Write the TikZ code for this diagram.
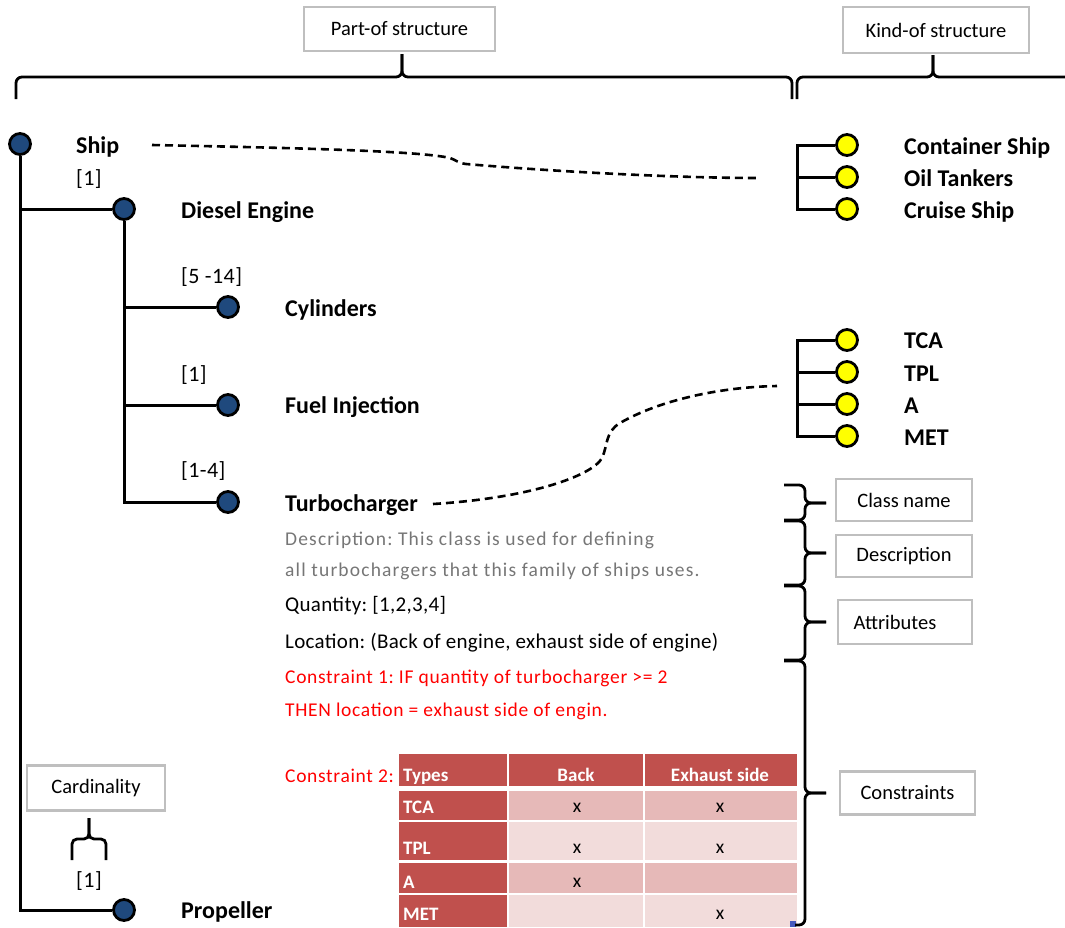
\documentclass[tikz,border=0pt]{standalone}
\usepackage{fontspec}
\setmainfont{Carlito}
\frenchspacing
\definecolor{partblue}{RGB}{31,73,125}
\definecolor{kindyellow}{RGB}{255,255,0}
\definecolor{tagline}{RGB}{191,191,191}
\definecolor{descgray}{RGB}{118,118,118}
\definecolor{rulered}{RGB}{255,0,0}
\definecolor{thead}{RGB}{192,80,77}
\definecolor{tmid}{RGB}{230,185,184}
\definecolor{tlight}{RGB}{242,220,219}
\definecolor{handle}{RGB}{70,90,190}
\begin{document}
\begin{tikzpicture}[x=1pt,y=-1pt,
  part/.style={circle, draw=black, line width=2.8pt, fill=partblue, minimum size=21pt, inner sep=0pt},
  kind/.style={part, fill=kindyellow},
  tree/.style={line width=3pt},
  clsname/.style={anchor=west, inner sep=0pt, text depth=0pt, text height=15.5pt,
    font=\fontsize{24}{28}\selectfont\bfseries},
  mult/.style={anchor=west, inner sep=0pt, text depth=0pt, text height=14pt,
    font=\fontsize{22}{26}\selectfont\addfontfeatures{LetterSpace=2}},
  attr/.style={anchor=west, inner sep=0pt, text depth=0pt, text height=13.5pt,
    font=\fontsize{21}{25}\selectfont\addfontfeatures{LetterSpace=1.5}},
  desc/.style={anchor=west, inner sep=0pt, text depth=0pt, text height=12.5pt, text=descgray,
    font=\fontsize{19.5}{23}\selectfont\addfontfeatures{LetterSpace=6}},
  rule/.style={anchor=west, inner sep=0pt, text depth=0pt, text height=12.5pt, text=rulered,
    font=\fontsize{19.5}{23}\selectfont\addfontfeatures{LetterSpace=3.5}},
  tag/.style={draw=tagline, line width=2.5pt, fill=white, inner sep=0pt,
    font=\fontsize{20.5}{24}\selectfont},
  brace/.style={line width=2.8pt, rounded corners=6pt},
  link/.style={line width=2.6pt, dash pattern=on 8pt off 5pt},
  thtext/.style={inner sep=0pt, text depth=0pt, text height=12.2pt, text=white,
    font=\fontsize{19}{23}\selectfont\bfseries},
  xmark/.style={inner sep=0pt, text depth=0pt, text height=8.9pt,
    font=\fontsize{19.5}{23}\selectfont}
]
\useasboundingbox (0,0) rectangle (1065,927);

% ---------- headings and top braces ----------
\node[tag, minimum width=191pt, minimum height=44pt] (partof) at (399.5,29) {Part-of structure};
\node[tag, minimum width=186pt, minimum height=46pt] (kindof) at (936,30) {Kind-of structure};
\draw[brace] (16,99) -- (16,77) -- (402,77) -- (402,54);
\draw[brace] (792,99) -- (792,77) -- (402,77) -- (402,54);
\draw[brace] (797,99) -- (797,77) -- (933,77) -- (933,55);
\draw[brace] (1065,77) -- (933,77) -- (933,55);

% ---------- part-of tree ----------
\node[part] (ship) at (20,144) {};
\node[part] (engine) at (124,209) {};
\node[part] (cyl) at (228,307) {};
\node[part] (fuel) at (228,405) {};
\node[part] (turbo) at (228,502) {};
\node[part] (prop) at (124,910) {};

\draw[tree] (ship.south) |- (prop.west);
\draw[tree] (ship |- engine) -- (engine.west);
\draw[tree] (engine.south) |- (turbo.west);
\draw[tree] (engine |- cyl) -- (cyl.west);
\draw[tree] (engine |- fuel) -- (fuel.west);

\node[clsname] (shipT) at (76,146) {Ship};
\node[mult] (shipM) at (76,178) {[1]};
\node[clsname] (engineT) at (181,211) {Diesel Engine};
\node[mult] (cylM) at (181,276) {[5 -14]};
\node[clsname] (cylT) at (285,309) {Cylinders};
\node[mult] (fuelM) at (181,374) {[1]};
\node[clsname] (fuelT) at (285,406) {Fuel Injection};
\node[mult] (turboM) at (181,470) {[1-4]};
\node[clsname] (turboT) at (285,504) {Turbocharger};
\node[clsname] (propT) at (181,911) {Propeller};

% cardinality callout
\node[tag, minimum width=138pt, minimum height=45pt] (card) at (96,788) {Cardinality};
\draw[brace, rounded corners=5pt] (72,860) -- (72,839) -- (89,839) -- (89,818);
\draw[brace, rounded corners=5pt] (106,860) -- (106,839) -- (89,839) -- (89,818);
\node[mult, anchor=center] (propM) at (89,880) {[1]};

% ---------- kind-of trees ----------
\node[kind] (k1) at (847,145) {};
\node[kind] (k2) at (847,177) {};
\node[kind] (k3) at (847,209) {};
\draw[tree] (k1.west) -- ++(-38,0) |- (k3.west);
\draw[tree] (k2.west) -- ++(-38,0);
\node[clsname] (k1T) at (904,147) {Container Ship};
\node[clsname] (k2T) at (904,179) {Oil Tankers};
\node[clsname] (k3T) at (904,211) {Cruise Ship};

\node[kind] (t1) at (847,340) {};
\node[kind] (t2) at (847,372) {};
\node[kind] (t3) at (847,404) {};
\node[kind] (t4) at (847,436) {};
\draw[tree] (t1.west) -- ++(-38,0) |- (t4.west);
\draw[tree] (t2.west) -- ++(-38,0);
\draw[tree] (t3.west) -- ++(-38,0);
\node[clsname] (t1T) at (904,341) {TCA};
\node[clsname] (t2T) at (904,374) {TPL};
\node[clsname] (t3T) at (904,406) {A};
\node[clsname] (t4T) at (904,438) {MET};

% ---------- dashed links between structures ----------
\coordinate (shipLinkA) at (152,145);
\coordinate (shipLinkB) at (758,178);
\draw[link] (shipLinkA) .. controls (300,148) and (420,151) .. (450,158)
  .. controls (456,160) and (458,163) .. (466,164)
  .. controls (560,172) and (680,178) .. (shipLinkB);
\coordinate (turboLinkA) at (433,504);
\coordinate (turboLinkB) at (777,386);
\draw[link] (turboLinkA) .. controls (530,498) and (592,476) .. (602,458)
  .. controls (608,445) and (605,432) .. (620,423)
  .. controls (660,400) and (720,387) .. (turboLinkB);

% ---------- class details ----------
\node[desc] (d1) at (285,539.5) {Description: This class is used for defining};
\node[desc] (d2) at (285,570.5) {all turbochargers that this family of ships uses.};
\node[attr] (a1) at (285,605) {Quantity: [1,2,3,4]};
\node[attr] (a2) at (285,642) {Location: (Back of engine, exhaust side of engine)};
\node[rule] (c1) at (285,677) {Constraint 1: IF quantity of turbocharger >= 2};
\node[rule] (c1b) at (285,710) {THEN location = exhaust side of engin.};
\node[rule] (c2) at (285,776) {Constraint 2:};

% constraint table
\fill[thead] (399,754) rectangle (507,786);
\fill[thead] (509,754) rectangle (643,786);
\fill[thead] (645,754) rectangle (797,786);
\fill[thead] (399,791) rectangle (507,820);
\fill[thead] (399,822) rectangle (507,860);
\fill[thead] (399,863) rectangle (507,893);
\fill[thead] (399,895) rectangle (507,927);
\fill[tmid] (509,791) rectangle (643,820);
\fill[tmid] (645,791) rectangle (797,820);
\fill[tlight] (509,822) rectangle (643,860);
\fill[tlight] (645,822) rectangle (797,860);
\fill[tmid] (509,863) rectangle (643,893);
\fill[tmid] (645,863) rectangle (797,893);
\fill[tlight] (509,895) rectangle (643,927);
\fill[tlight] (645,895) rectangle (797,927);
\fill[handle] (790,921) rectangle (796,927);

\node[thtext, anchor=west] (hTypes) at (403,775) {Types};
\node[thtext] (hBack) at (576,775) {Back};
\node[thtext] (hExh) at (720,775) {Exhaust side};
\node[thtext, anchor=west] (rTCA) at (403,807) {TCA};
\node[thtext, anchor=west] (rTPL) at (403,848) {TPL};
\node[thtext, anchor=west] (rA) at (403,882) {A};
\node[thtext, anchor=west] (rMET) at (403,914) {MET};
\node[xmark] (m11) at (577,808) {x};
\node[xmark] (m12) at (720,808) {x};
\node[xmark] (m21) at (577,849) {x};
\node[xmark] (m22) at (720,849) {x};
\node[xmark] (m31) at (577,883) {x};
\node[xmark] (m42) at (720,915) {x};

% ---------- section callouts ----------
\node[tag, minimum width=136pt, minimum height=42pt] (lblName) at (904,500) {Class name};
\node[tag, minimum width=136pt, minimum height=42pt] (lblDesc) at (904,556) {Description};
\node[tag, minimum width=134pt, minimum height=44pt] (lblAttr) at (905,622) {\hspace*{-20pt}Attributes};
\node[tag, minimum width=135pt, minimum height=43pt] (lblCons) at (907.5,793) {Constraints};

\draw[brace] (784,485) -- (805,485) -- (805,503) -- (826,503);
\draw[brace] (784,520) -- (805,520) -- (805,503) -- (826,503);
\draw[brace] (784,521) -- (805,521) -- (805,553) -- (826,553);
\draw[brace] (784,585) -- (805,585) -- (805,553) -- (826,553);
\draw[brace] (784,586) -- (805,586) -- (805,622) -- (826,622);
\draw[brace] (784,660) -- (805,660) -- (805,622) -- (826,622);
\draw[brace] (784,661) -- (805,661) -- (805,793) -- (826,793);
\draw[brace] (795,925) -- (805,925) -- (805,793) -- (826,793);
\end{tikzpicture}
\end{document}
